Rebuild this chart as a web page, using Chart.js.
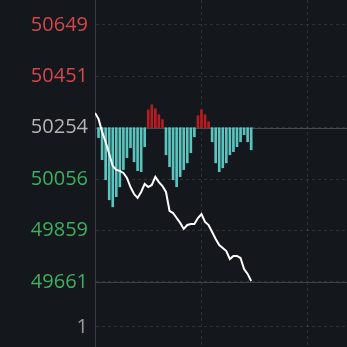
<!DOCTYPE html>
<html>
<head>
<meta charset="utf-8">
<script src="https://cdn.jsdelivr.net/npm/chart.js@4"></script>
<style>
  html, body { margin: 0; padding: 0; background: #14171c; }
  #wrap { width: 347px; height: 347px; position: relative; }
</style>
</head>
<body>
<div id="wrap"><canvas id="priceChart"></canvas></div>
<script>
  // y axis ticks (the last one is the "1" label at the bottom)
  var tickValues = [50649, 50451, 50254, 50056, 49859, 49661, 49488];
  var tickLabels = ["50649", "50451", "50254", "50056", "49859", "49661", "1"];
  var basePrice = 50254;

  // price line, one point per minute
  var prices = [50311, 50288, 50238, 50199, 50153, 50107, 50092, 50088, 50080, 50061,
                50026, 49999, 49984, 50007, 50038, 50026, 50034, 50065, 50045, 50030,
                50007, 49934, 49926, 49907, 49888, 49865, 49880, 49884, 49884, 49907,
                49922, 49892, 49880, 49853, 49826, 49803, 49792, 49780, 49749, 49761,
                49761, 49753, 49711, 49692, 49665];

  // bars measured from the base price, starting at minute 1
  var deltas = [-38, -123, -200, -277, -304, -265, -227, -161, -115, -77, -131, -165, -169, -73,
                69, 88, 73, 50, 31,
                -104, -150, -200, -227, -188, -161, -135, -96, -35,
                46, 69, 50, 23,
                -54, -135, -169, -154, -135, -104, -92, -73, -54, -27, -54, -85];

  var gridX = [0, 30, 60];

  var tickColors = ["#d2484b", "#d2484b", "#b4b4b4", "#3fae5f", "#3fae5f", "#3fae5f", "#9a9a9a"];

  var solidLines = {
    id: "solidLines",
    beforeDatasetsDraw(chart) {
      var ctx = chart.ctx, area = chart.chartArea, y = chart.scales.y;
      ctx.save();
      ctx.lineWidth = 1;
      [[basePrice, "#474a51"], [49661, "#3d4047"]].forEach(function (l) {
        var py = Math.round(y.getPixelForValue(l[0])) + 0.5;
        ctx.strokeStyle = l[1];
        ctx.beginPath();
        ctx.moveTo(area.left, py);
        ctx.lineTo(area.right, py);
        ctx.stroke();
      });
      ctx.restore();
    }
  };

  var ctx = document.getElementById("priceChart").getContext("2d");
  new Chart(ctx, {
    type: "bar",
    data: {
      datasets: [{
        type: "line",
        data: prices.map((v, i) => ({ x: i, y: v })),
        borderColor: "#ffffff",
        borderWidth: 2,
        pointRadius: 0,
        tension: 0
      }, {
        type: "bar",
        data: deltas.map((d, i) => ({ x: i + 1, y: [basePrice, basePrice + d] })),
        backgroundColor: deltas.map(d => d > 0 ? "#b51d22" : "#5cc4bf"),
        barThickness: 2,
        borderWidth: 0
      }]
    },
    options: {
      responsive: true,
      maintainAspectRatio: false,
      animation: false,
      layout: { padding: 0 },
      plugins: {
        legend: { display: false },
        tooltip: { enabled: false }
      },
      scales: {
        x: {
          type: "linear",
          min: 0,
          max: 71,
          offset: false,
          afterBuildTicks: s => { s.ticks = gridX.map(v => ({ value: v })); },
          afterFit: s => { s.height = 0; s.paddingLeft = 0; s.paddingRight = 0; },
          grid: { color: "rgba(255,255,255,0.11)", drawTicks: false, offset: false },
          border: { display: false, dash: [3, 3] },
          ticks: { display: false }
        },
        y: {
          min: 49411,
          max: 50745,
          afterBuildTicks: s => { s.ticks = tickValues.map(v => ({ value: v })); },
          afterFit: s => { s.width = 95; s.paddingTop = 0; s.paddingBottom = 0; },
          grid: { color: "rgba(255,255,255,0.11)", drawTicks: false },
          border: { display: true, color: "#3a3d44", width: 1, dash: [3, 3] },
          ticks: {
            padding: 7,
            font: { family: "Open Sans", size: 20 },
            color: c => tickColors[c.index],
            callback: (v, i) => tickLabels[i]
          }
        }
      }
    },
    plugins: [solidLines]
  });
</script>
</body>
</html>
